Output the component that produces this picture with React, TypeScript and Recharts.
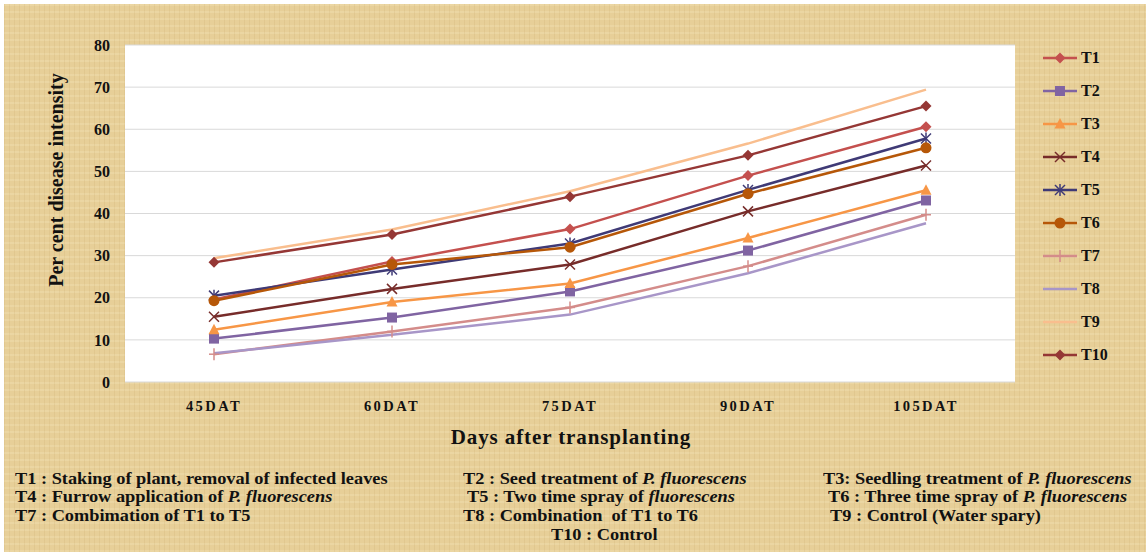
import React from 'react';
import { LineChart, Line, XAxis, YAxis, CartesianGrid, Legend } from 'recharts';

const categories = ['45DAT', '60DAT', '75DAT', '90DAT', '105DAT'];
const t1 = [19.6, 28.6, 36.3, 49.0, 60.6];
const t2 = [10.3, 15.3, 21.5, 31.2, 43.1];
const t3 = [12.4, 19.0, 23.4, 34.2, 45.5];
const t4 = [15.5, 22.1, 27.9, 40.5, 51.4];
const t5 = [20.5, 26.7, 32.9, 45.6, 57.8];
const t6 = [19.3, 27.9, 32.0, 44.7, 55.6];
const t7 = [6.6, 12.0, 17.7, 27.5, 39.7];
const t8 = [6.8, 11.2, 16.0, 25.8, 37.7];
const t9 = [29.4, 36.2, 45.3, 56.6, 69.4];
const t10 = [28.4, 35.0, 44.0, 53.8, 65.5];
const yTicks = [0, 10, 20, 30, 40, 50, 60, 70, 80];

type Shape = 'diamond' | 'square' | 'triangle' | 'x' | 'star' | 'circle' | 'plus' | 'none';

const series: { key: string; values: number[]; color: string; shape: Shape }[] = [
  { key: 'T1', values: t1, color: '#c4504e', shape: 'diamond' },
  { key: 'T2', values: t2, color: '#8064a2', shape: 'square' },
  { key: 'T3', values: t3, color: '#f79646', shape: 'triangle' },
  { key: 'T4', values: t4, color: '#772c2a', shape: 'x' },
  { key: 'T5', values: t5, color: '#3f3a76', shape: 'star' },
  { key: 'T6', values: t6, color: '#b65708', shape: 'circle' },
  { key: 'T7', values: t7, color: '#d48c8a', shape: 'plus' },
  { key: 'T8', values: t8, color: '#a896c8', shape: 'none' },
  { key: 'T9', values: t9, color: '#f9be8e', shape: 'none' },
  { key: 'T10', values: t10, color: '#953735', shape: 'diamond' },
];

const data = categories.map((c, i) => {
  const row: Record<string, string | number> = { day: c };
  series.forEach((s) => (row[s.key] = s.values[i]));
  return row;
});

const serif = '"Liberation Serif", "Times New Roman", serif';

function Marker({ shape, color, cx, cy }: { shape: Shape; color: string; cx: number; cy: number }) {
  switch (shape) {
    case 'diamond':
      return <polygon points={`${cx},${cy - 5.5} ${cx + 5.5},${cy} ${cx},${cy + 5.5} ${cx - 5.5},${cy}`} fill={color} />;
    case 'square':
      return <rect x={cx - 5} y={cy - 5} width={10} height={10} fill={color} />;
    case 'triangle':
      return <polygon points={`${cx},${cy - 6} ${cx + 5.5},${cy + 4.5} ${cx - 5.5},${cy + 4.5}`} fill={color} />;
    case 'circle':
      return <circle cx={cx} cy={cy} r={5.5} fill={color} />;
    case 'x':
      return (
        <g stroke={color} strokeWidth={1.5}>
          <line x1={cx - 5} y1={cy - 5} x2={cx + 5} y2={cy + 5} />
          <line x1={cx - 5} y1={cy + 5} x2={cx + 5} y2={cy - 5} />
        </g>
      );
    case 'star':
      return (
        <g stroke={color} strokeWidth={1.5}>
          <line x1={cx - 5} y1={cy - 5} x2={cx + 5} y2={cy + 5} />
          <line x1={cx - 5} y1={cy + 5} x2={cx + 5} y2={cy - 5} />
          <line x1={cx} y1={cy - 6} x2={cx} y2={cy + 6} />
        </g>
      );
    case 'plus':
      return (
        <g stroke={color} strokeWidth={1.5}>
          <line x1={cx - 5} y1={cy} x2={cx + 5} y2={cy} />
          <line x1={cx} y1={cy - 6} x2={cx} y2={cy + 6} />
        </g>
      );
    default:
      return null;
  }
}

const makeDot = (shape: Shape, color: string) => (props: any) => {
  const { cx, cy, index } = props;
  return (
    <g key={`dot-${shape}-${index}`}>
      <Marker shape={shape} color={color} cx={cx} cy={cy} />
    </g>
  );
};

const XTick = (props: any) => {
  const { x, y, payload } = props;
  return (
    <text x={x} y={y + 21} textAnchor="middle" fontFamily={serif} fontWeight="bold" fontSize={14.5} letterSpacing={2.4} fill="#111">
      {payload.value}
    </text>
  );
};

const renderLegend = () => (
  <div>
    {series.map((s) => (
      <div key={s.key} style={{ height: 33, display: 'flex', alignItems: 'center' }}>
        <svg width={40} height={14}>
          <line x1={2} y1={7} x2={36} y2={7} stroke={s.color} strokeWidth={2.5} />
          <Marker shape={s.shape} color={s.color} cx={19} cy={7} />
        </svg>
        <span style={{ fontFamily: serif, fontWeight: 'bold', fontSize: 16, color: '#111' }}>{s.key}</span>
      </div>
    ))}
  </div>
);

const noteStyle: React.CSSProperties = {
  position: 'absolute',
  fontFamily: serif,
  fontWeight: 'bold',
  fontSize: 16.5,
  color: '#111',
  whiteSpace: 'nowrap',
  lineHeight: '18px',
  transform: 'scaleX(1.11)',
  transformOrigin: 'left center',
};

const notes: { text: React.ReactNode; x: number; y: number }[] = [
  { text: <>T1 : Staking of plant, removal of infected leaves</>, x: 15, y: 470 },
  { text: <>T2 : Seed treatment of <i>P. fluorescens</i></>, x: 463, y: 470 },
  { text: <>T3: Seedling treatment of <i>P. fluorescens</i></>, x: 823, y: 470 },
  { text: <>T4 : Furrow application of <i>P. fluorescens</i></>, x: 15, y: 488 },
  { text: <>T5 : Two time spray of <i>fluorescens</i></>, x: 467, y: 488 },
  { text: <>T6 : Three time spray of <i>P. fluorescens</i></>, x: 828, y: 488 },
  { text: <>T7 : Combimation of T1 to T5</>, x: 15, y: 507 },
  { text: <>T8 : Combination&nbsp; of T1 to T6</>, x: 463, y: 507 },
  { text: <>T9 : Control (Water spary)</>, x: 830, y: 507 },
  { text: <>T10 : Control</>, x: 551, y: 526 },
];

export default function App() {
  return (
    <div style={{ width: 1146, height: 552, background: '#fff', position: 'relative', overflow: 'hidden' }}>
      <style>{'body{margin:0}'}</style>
      <div
        style={{
          position: 'absolute',
          left: 4,
          top: 4,
          right: 0,
          bottom: 0,
          backgroundColor: '#e7cf98',
          backgroundImage:
            'repeating-linear-gradient(90deg, rgba(170,130,60,0.10) 0px, rgba(170,130,60,0.10) 1px, transparent 1px, transparent 5px), repeating-linear-gradient(0deg, rgba(255,245,210,0.18) 0px, rgba(255,245,210,0.18) 2px, transparent 2px, transparent 7px)',
        }}
      />
      <div style={{ position: 'absolute', left: 0, top: 0 }}>
        <LineChart width={1146} height={552} data={data} margin={{ top: 45, right: 26, left: 65, bottom: 130 }}>
          <CartesianGrid vertical={false} stroke="#d9d9d9" fill="#ffffff" />
          <XAxis
            dataKey="day"
            height={40}
            axisLine={false}
            tickLine={false}
            tick={<XTick />}
            interval={0}
            padding={{ left: 89, right: 89 }}
          />
          <YAxis
            width={60}
            domain={[0, 80]}
            ticks={yTicks}
            axisLine={false}
            tickLine={false}
            tickMargin={9}
            tick={{ fontFamily: serif, fontWeight: 'bold', fontSize: 16, fill: '#111' }}
          />
          <Legend
            layout="vertical"
            align="right"
            verticalAlign="top"
            content={renderLegend}
            wrapperStyle={{ top: 41, left: 1041, width: 105 }}
          />
          {series.map((s) => (
            <Line
              key={s.key}
              dataKey={s.key}
              name={s.key}
              stroke={s.color}
              strokeWidth={2.5}
              dot={makeDot(s.shape, s.color)}
              activeDot={false}
              isAnimationActive={false}
            />
          ))}
        </LineChart>
      </div>
      <div
        style={{
          position: 'absolute',
          left: 56,
          top: 180,
          transform: 'translate(-50%, -50%) rotate(-90deg)',
          fontFamily: serif,
          fontWeight: 'bold',
          fontSize: 20,
          color: '#111',
          whiteSpace: 'nowrap',
        }}
      >
        Per cent disease intensity
      </div>
      <div
        style={{
          position: 'absolute',
          left: 571,
          top: 437,
          transform: 'translate(-50%, -50%)',
          fontFamily: serif,
          fontWeight: 'bold',
          fontSize: 21,
          color: '#111',
          whiteSpace: 'nowrap',
          letterSpacing: 0.9,
        }}
      >
        Days after transplanting
      </div>
      {notes.map((n, i) => (
        <div key={i} style={{ ...noteStyle, left: n.x, top: n.y }}>
          {n.text}
        </div>
      ))}
    </div>
  );
}
